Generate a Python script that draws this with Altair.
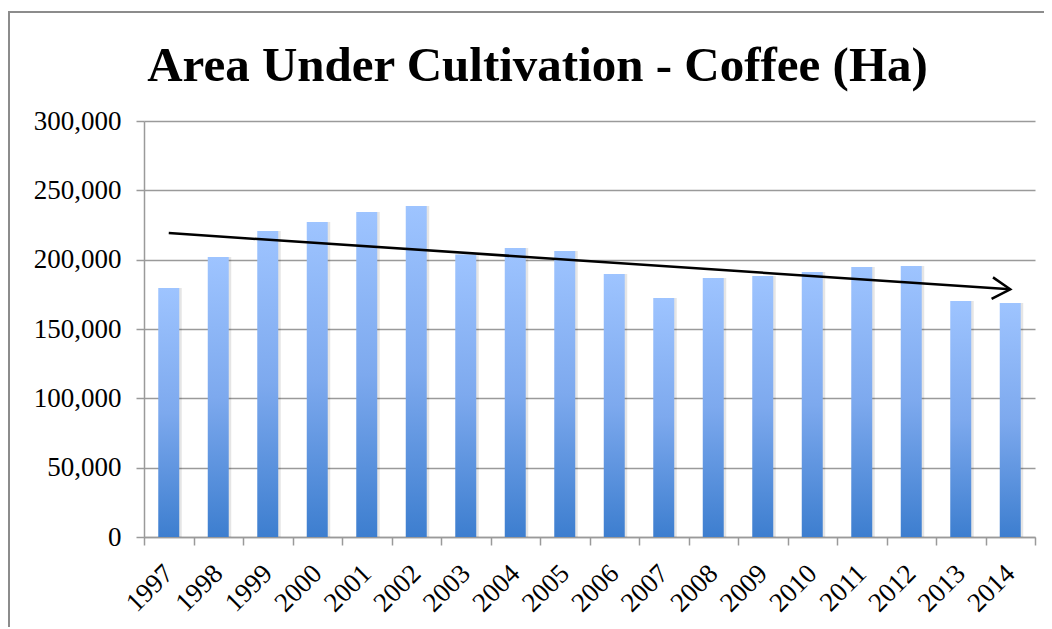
import altair as alt
import pandas as pd

# ---- data ----
years = ["1997", "1998", "1999", "2000", "2001", "2002", "2003", "2004", "2005",
         "2006", "2007", "2008", "2009", "2010", "2011", "2012", "2013", "2014"]
area_ha = [179500, 202000, 220700, 227200, 234400, 238700, 203800, 208400, 206200,
           189700, 172400, 186800, 188200, 191100, 194700, 195400, 170200, 168700]
trend_years = ["1997", "2014"]
trend_values = [219200, 178600]
y_ticks = [0, 50000, 100000, 150000, 200000, 250000, 300000]

bars_df = pd.DataFrame({"year": years, "area": area_ha})
trend_df = pd.DataFrame({"year": trend_years, "area": trend_values})
head_df = trend_df.tail(1)
frame_df = pd.DataFrame({"k": [0]})

GRID = "#9a9a9a"
FONT = "Liberation Serif"

x_enc = alt.X(
    "year:N",
    sort=years,
    scale=alt.Scale(paddingInner=0, paddingOuter=0),
    axis=alt.Axis(
        title=None,
        tickBand="extent",
        tickSize=8,
        tickColor=GRID,
        tickWidth=1.5,
        domainColor=GRID,
        domainWidth=1.5,
        labelAngle=-45,
        labelAlign="right",
        labelBaseline="middle",
        labelPadding=24,
        labelFont=FONT,
        labelFontSize=27,
        labelColor="black",
        grid=False,
    ),
)
y_enc = alt.Y(
    "area:Q",
    scale=alt.Scale(domain=[0, 300000], nice=False),
    axis=alt.Axis(
        title=None,
        values=y_ticks,
        format=",d",
        tickSize=8,
        tickColor=GRID,
        tickWidth=1.5,
        domainColor=GRID,
        domainWidth=1.5,
        gridColor=GRID,
        gridWidth=1.5,
        labelPadding=15,
        labelFont=FONT,
        labelFontSize=27,
        labelColor="black",
    ),
)

gradient = alt.Gradient(
    gradient="linear",
    stops=[
        alt.GradientStop(offset=0, color="#9EC4FF"),
        alt.GradientStop(offset=0.5, color="#7DA9EE"),
        alt.GradientStop(offset=1, color="#3D7ECF"),
    ],
    x1=0, x2=0, y1=0, y2=1,
)

BAR_W = alt.RelativeBandSize(0.424)

shadow = alt.Chart(bars_df).mark_bar(
    color="#000000", opacity=0.10, xOffset=2.5, width=BAR_W
).encode(x=x_enc, y=y_enc)
bars = alt.Chart(bars_df).mark_bar(color=gradient, width=BAR_W).encode(x=x_enc, y=y_enc)

trend = alt.Chart(trend_df).mark_line(color="black", strokeWidth=2.5).encode(
    x=alt.X("year:N", sort=years), y="area:Q"
)
head = alt.Chart(head_df).mark_point(
    shape="M-1,-0.6L0,0L-1,0.6",
    size=1296,
    filled=False,
    stroke="black",
    strokeWidth=2.5,
    angle=3.8,
    opacity=1,
).encode(x=alt.X("year:N", sort=years), y="area:Q")

frame = alt.Chart(frame_df).mark_rect(
    fillOpacity=0, stroke="#8c8c8c", strokeWidth=2
).encode(
    x=alt.value(-135), x2=alt.value(1100), y=alt.value(-109), y2=alt.value(700)
)

chart = alt.layer(frame, shadow, bars, trend, head).properties(
    width=891,
    height=416,
    padding={"left": 136, "top": 113, "right": 9, "bottom": 90},
    autosize=alt.AutoSizeParams(type="none"),
    title=alt.TitleParams(
        "Area Under Cultivation - Coffee (Ha)",
        font=FONT,
        fontSize=49,
        fontWeight="bold",
        color="black",
        anchor="middle",
        frame="group",
        baseline="alphabetic",
        offset=-119,
        dx=-52,
    ),
).configure(background="white").configure_view(strokeWidth=0, stroke="transparent")

chart.save("out.html", embed_options={"renderer": "svg", "actions": False})
